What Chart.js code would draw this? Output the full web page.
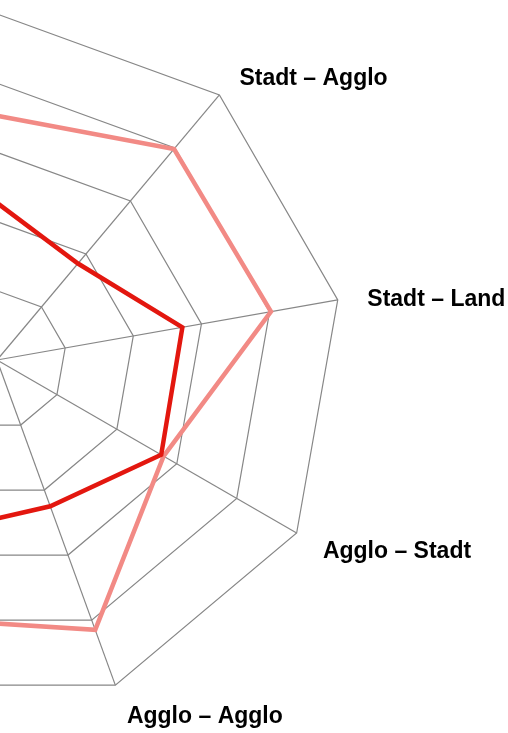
<!DOCTYPE html>
<html lang="de">
<head>
<meta charset="utf-8">
<title>Radar</title>
<script src="https://cdn.jsdelivr.net/npm/chart.js@4.4.1/dist/chart.umd.min.js"></script>
<style>
    html, body {
        margin: 0;
        padding: 0;
        width: 508px;
        height: 733px;
        overflow: hidden;
        background: #fff;
    }
    #grafico {
        position: absolute;
        left: -749px;
        top: -26px;
    }
</style>
</head>
<body>
<canvas id="grafico" width="1257" height="780"></canvas>
<script>
const kategorien = [
    "Stadt – Stadt", "Stadt – Agglo", "Stadt – Land",
    "Agglo – Stadt", "Agglo – Agglo", "Agglo – Land",
    "Land – Stadt", "Land – Agglo", "Land – Land"
];
const werteHell = [3.53, 3.98, 4.02, 2.78, 4.15, 3.96, 3.4, 2.9, 3.1];
const werteDunkel = [2.27, 1.82, 2.72, 2.74, 2.25, 2.66, 2.0, 1.7, 1.9];
const skalaMax = 5;
const skalaSchritt = 1;

// Achsenbeschriftung selber zeichnen, damit sie links an der Spitze steht
const achsenLabels = {
    id: 'achsenLabels',
    afterDraw(chart) {
        const scale = chart.scales.r;
        const ctx = chart.ctx;
        ctx.save();
        ctx.font = 'bold 23px "Liberation Sans", Arial, sans-serif';
        ctx.fillStyle = '#000';
        ctx.textBaseline = 'middle';
        chart.data.labels.forEach((txt, i) => {
            const p = scale.getPointPosition(i, scale.drawingArea + 28);
            const winkel = i * 360 / chart.data.labels.length;
            let x = p.x;
            let y = p.y + 5;
            if (winkel === 0 || winkel === 180) {
                ctx.textAlign = 'center';
                y = winkel === 0 ? y - 14 : y + 14;
            } else if (winkel < 180) {
                ctx.textAlign = 'left';
                x += 2;
            } else {
                ctx.textAlign = 'right';
                x -= 2;
            }
            ctx.fillText(txt, x, y);
        });
        ctx.restore();
    }
};

function radarZeichnen() {
    const ctx = document.getElementById('grafico').getContext('2d');
    const myChart = new Chart(ctx, {
        type: 'radar',
        data: {
            labels: kategorien,
            datasets: [{
                label: 'dunkel',
                data: werteDunkel,
                borderColor: '#e3170f',
                borderWidth: 4.5,
                fill: false,
                pointRadius: 0,
                tension: 0
            }, {
                label: 'hell',
                data: werteHell,
                borderColor: '#f28a85',
                borderWidth: 4.5,
                fill: false,
                pointRadius: 0,
                tension: 0
            }]
        },
        options: {
            responsive: false,
            animation: false,
            layout: {
                padding: { left: 400, right: 164, top: 40, bottom: 47 }
            },
            plugins: {
                legend: { display: false },
                tooltip: { enabled: false }
            },
            scales: {
                r: {
                    min: 0,
                    max: skalaMax,
                    ticks: { display: false, stepSize: skalaSchritt },
                    grid: { color: '#878787', lineWidth: 1.2 },
                    angleLines: { color: '#878787', lineWidth: 1.2 },
                    pointLabels: { display: false }
                }
            }
        },
        plugins: [achsenLabels]
    });
}

radarZeichnen();
</script>
</body>
</html>
